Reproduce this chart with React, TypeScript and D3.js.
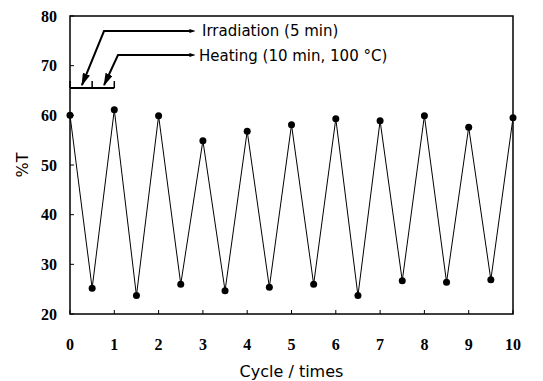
import * as d3 from "d3"

// peaks at whole cycles (after heating), troughs at half cycles (after irradiation)
const peakCycles = [0, 1, 2, 3, 4, 5, 6, 7, 8, 9, 10]
const peakValues = [60.0, 61.1, 59.9, 54.9, 56.8, 58.1, 59.3, 58.9, 59.9, 57.6, 59.5]
const troughCycles = [0.5, 1.5, 2.5, 3.5, 4.5, 5.5, 6.5, 7.5, 8.5, 9.5]
const troughValues = [25.2, 23.7, 26.0, 24.7, 25.4, 26.0, 23.7, 26.7, 26.4, 26.9]

const xTicks = [0, 1, 2, 3, 4, 5, 6, 7, 8, 9, 10]
const yTicks = [20, 30, 40, 50, 60, 70, 80]

const W = 543
const H = 381
const margin = { top: 16, right: 30, bottom: 67, left: 70 }

export default function App() {
  const x = d3.scaleLinear().domain([0, 10]).range([margin.left, W - margin.right])
  const y = d3.scaleLinear().domain([20, 80]).range([H - margin.bottom, margin.top])

  // interleave peaks and troughs
  const points: [number, number][] = []
  peakCycles.forEach((c, i) => {
    points.push([c, peakValues[i]])
    if (i < troughCycles.length) points.push([troughCycles[i], troughValues[i]])
  })

  const line = d3
    .line<[number, number]>()
    .x(d => x(d[0]))
    .y(d => y(d[1]))

  const x0 = x(0)
  const x1 = x(10)
  const y0 = y(20)
  const y1 = y(80)

  // bracket marking one cycle
  const brY = y(65.5)
  const brTop = y(66.9)

  const sans = "'DejaVu Sans', 'Noto Sans CJK JP', sans-serif"
  const serif = "'Liberation Serif', 'DejaVu Serif', serif"

  return (
    <svg width={W} height={H} style={{ position: "absolute", left: 0, top: 0, background: "#fff" }}>
      <defs>
        <marker id="arr" viewBox="0 0 10 10" refX="9" refY="5" markerWidth="6.5" markerHeight="3.8"
          orient="auto" markerUnits="strokeWidth" preserveAspectRatio="none">
          <path d="M0,0 L10,5 L0,10 z" fill="#000" />
        </marker>
        <marker id="arrSmall" viewBox="0 0 10 10" refX="1" refY="5" markerWidth="3" markerHeight="2"
          orient="auto-start-reverse" markerUnits="strokeWidth" preserveAspectRatio="none">
          <path d="M0,0 L10,5 L0,10 z" fill="#000" />
        </marker>
      </defs>

      {/* frame */}
      <rect x={x0} y={y1} width={x1 - x0} height={y0 - y1} fill="none" stroke="#000" strokeWidth={1.5} />

      {/* y ticks */}
      {yTicks.map(t => (
        <g key={"y" + t}>
          <line x1={x0} x2={x0 + 4} y1={y(t)} y2={y(t)} stroke="#000" strokeWidth={1} />
          <text x={x0 - 13} y={y(t)} dy="0.35em" textAnchor="end" fontFamily={serif}
            fontWeight="bold" fontSize={16}>{t}</text>
        </g>
      ))}

      {/* x ticks */}
      {xTicks.map(t => (
        <g key={"x" + t}>
          <line x1={x(t)} x2={x(t)} y1={y0} y2={y0 - 4} stroke="#000" strokeWidth={1} />
          <text x={x(t)} y={y0 + 36} textAnchor="middle" fontFamily={serif}
            fontWeight="bold" fontSize={16}>{t}</text>
        </g>
      ))}

      {/* data line */}
      <path d={line(points) || ""} fill="none" stroke="#000" strokeWidth={1} />
      {points.map((p, i) => (
        <circle key={i} cx={x(p[0])} cy={y(p[1])} r={3.5} fill="#000" />
      ))}

      {/* bracket */}
      <path d={`M${x(0)},${brY}H${x(1)}`} stroke="#000" strokeWidth={2} fill="none" />
      {[0, 0.5, 1].map(c => (
        <line key={c} x1={x(c)} x2={x(c)} y1={brY} y2={brTop} stroke="#000" strokeWidth={1.5} />
      ))}

      {/* annotations */}
      <polyline points={`190,31 104,31 ${x(0.27)},${brY - 3}`} fill="none" stroke="#000"
        strokeWidth={2} markerEnd="url(#arr)" markerStart="url(#arrSmall)" />
      <polyline points={`190,55 118,55 ${x(0.77)},${brY - 3}`} fill="none" stroke="#000"
        strokeWidth={2} markerEnd="url(#arr)" markerStart="url(#arrSmall)" />
      <text x={202} y={31} dy="0.35em" fontFamily={sans} fontSize={15}>Irradiation (5 min)</text>
      <text x={199} y={56} dy="0.35em" fontFamily={sans} fontSize={15}>Heating (10 min, 100 °C)</text>

      {/* axis titles */}
      <text x={(x0 + x1) / 2} y={377} textAnchor="middle" fontFamily={sans} fontSize={16}>Cycle / times</text>
      <text transform={`translate(22,${(y0 + y1) / 2}) rotate(-90)`} textAnchor="middle" dy="0.35em"
        fontFamily={sans} fontSize={16}>%T</text>
    </svg>
  )
}
